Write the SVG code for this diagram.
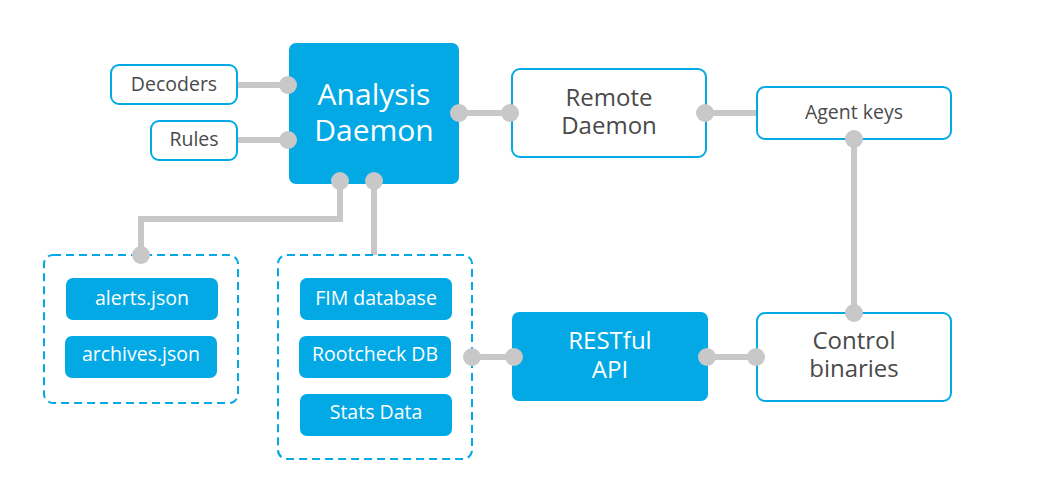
<svg xmlns="http://www.w3.org/2000/svg" width="1062" height="504" viewBox="0 0 1062 504">
<style>
.solid{fill:#03a9e4}
.out{fill:#fff;stroke:#03a9e4;stroke-width:2}
.dash{fill:none;stroke:#03a9e4;stroke-width:2;stroke-dasharray:8 5}
.wire{fill:none;stroke:#c8c8c8;stroke-width:6}
.dot{fill:#c8c8c8}
text{font-family:"Open Sans","Noto Sans",sans-serif;text-anchor:middle}
.w{fill:#fff}
.g{fill:#4a4a4a}
.s{font-size:19.5px}
.m{font-size:24px}
.l{font-size:30px}
</style>
<rect width="1062" height="504" fill="#fff"/>
<g id="connectors">
<path class="wire" d="M237 85H288"/>
<path class="wire" d="M237 140H288"/>
<path class="wire" d="M459 113H510"/>
<path class="wire" d="M705 113H757"/>
<path class="wire" d="M854 139V313"/>
<path class="wire" d="M340 181V219H141V255"/>
<path class="wire" d="M374 181V255"/>
<path class="wire" d="M472 357H514"/>
<path class="wire" d="M707 357H756"/>
</g>
<g id="analysis-daemon">
<rect class="solid" x="289" y="43" width="170" height="141" rx="7"/>
<text class="w l" x="374" y="105">Analysis</text>
<text class="w l" x="374" y="141">Daemon</text>
</g>
<g id="decoders">
<rect class="out" x="111" y="65" width="126" height="39" rx="8"/>
<text class="g s" x="174" y="91">Decoders</text>
</g>
<g id="rules">
<rect class="out" x="151" y="121" width="86" height="39" rx="8"/>
<text class="g s" x="194" y="146">Rules</text>
</g>
<g id="remote-daemon">
<rect class="out" x="512" y="69" width="194" height="88" rx="8"/>
<text class="g m" x="609" y="106">Remote</text>
<text class="g m" x="609" y="134">Daemon</text>
</g>
<g id="agent-keys">
<rect class="out" x="757" y="87" width="194" height="52" rx="8"/>
<text class="g s" x="854" y="119">Agent keys</text>
</g>
<g id="control-binaries">
<rect class="out" x="757" y="313" width="194" height="88" rx="8"/>
<text class="g m" x="854" y="349">Control</text>
<text class="g m" x="854" y="377">binaries</text>
</g>
<g id="restful-api">
<rect class="solid" x="512" y="312" width="196" height="89" rx="7"/>
<text class="w m" x="610" y="349">RESTful</text>
<text class="w m" x="610" y="378">API</text>
</g>
<g id="logs-group">
<rect class="dash" x="44" y="255" width="194" height="148" rx="9"/>
</g>
<g id="alerts-json">
<rect class="solid" x="66" y="278" width="152" height="42" rx="7"/>
<text class="w s" x="142" y="305">alerts.json</text>
</g>
<g id="archives-json">
<rect class="solid" x="65" y="336" width="152" height="42" rx="7"/>
<text class="w s" x="141" y="361">archives.json</text>
</g>
<g id="db-group">
<rect class="dash" x="278" y="255" width="194" height="204" rx="9"/>
</g>
<g id="fim-database">
<rect class="solid" x="300" y="278" width="152" height="42" rx="7"/>
<text class="w s" x="376" y="305">FIM database</text>
</g>
<g id="rootcheck-db">
<rect class="solid" x="299" y="336" width="152" height="42" rx="7"/>
<text class="w s" x="375" y="361">Rootcheck DB</text>
</g>
<g id="stats-data">
<rect class="solid" x="300" y="394" width="152" height="42" rx="7"/>
<text class="w s" x="376" y="419">Stats Data</text>
</g>
<g id="connector-ends">
<circle class="dot" cx="288" cy="85" r="9"/>
<circle class="dot" cx="288" cy="140" r="9"/>
<circle class="dot" cx="459" cy="113" r="9"/>
<circle class="dot" cx="510" cy="113" r="9"/>
<circle class="dot" cx="705" cy="113" r="9"/>
<circle class="dot" cx="854" cy="139" r="9"/>
<circle class="dot" cx="854" cy="313" r="9"/>
<circle class="dot" cx="340" cy="181" r="9"/>
<circle class="dot" cx="374" cy="181" r="9"/>
<circle class="dot" cx="141" cy="255" r="9"/>
<circle class="dot" cx="472" cy="357" r="9"/>
<circle class="dot" cx="514" cy="357" r="9"/>
<circle class="dot" cx="707" cy="357" r="9"/>
<circle class="dot" cx="756" cy="357" r="9"/>
</g>
</svg>
